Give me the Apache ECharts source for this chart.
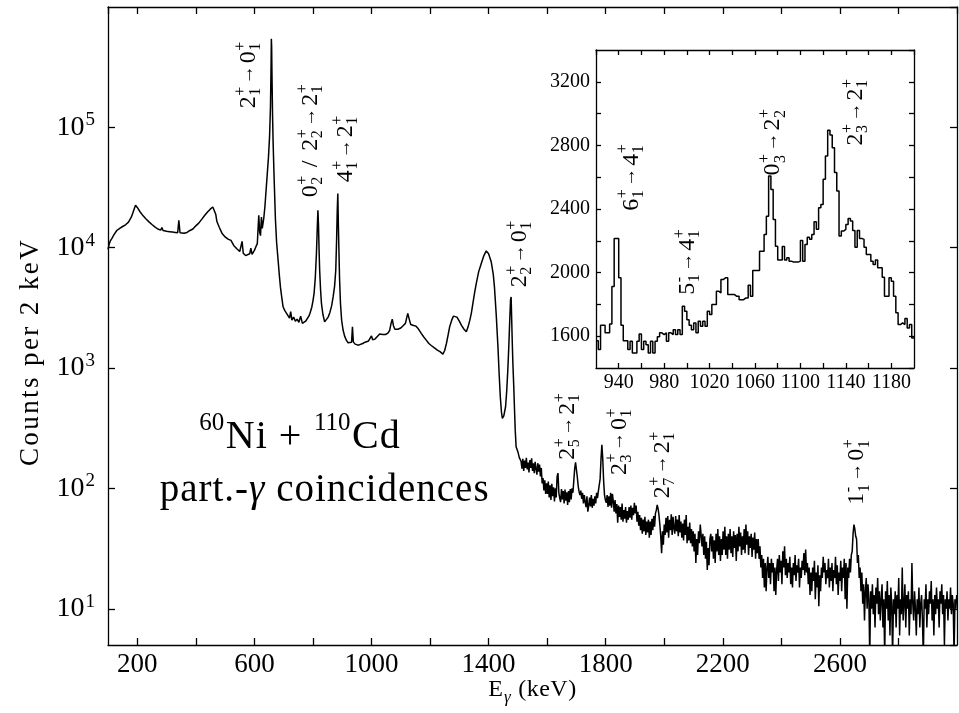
<!DOCTYPE html>
<html><head><meta charset="utf-8">
<script src="https://cdn.jsdelivr.net/npm/echarts@6/dist/echarts.min.js"></script>
<style>html,body{margin:0;padding:0;background:#fff}#c{width:959px;height:713px}</style>
</head><body><div id="c"></div>
<script>
// ---------------- DATA ----------------
// Main spectrum, 100 - 1505 keV: [energy keV, counts per 2 keV]
const lowEnergySpectrum = [
[100,9700],[104,10700],[108,11400],[113,11900],[120,12800],[130,13900],[140,14500],[150,15000],[160,15500],[170,16300],
[180,18000],[188,20500],[194,22500],[200,21600],[210,19800],[220,18400],[230,17300],[240,16400],[250,15600],[260,14900],
[270,14300],[280,14000],[284,14700],[288,13900],[300,13700],[310,13600],[320,13500],[330,13400],[338,13300],[342,16900],
[346,13300],[350,13200],[360,13200],[370,13400],[380,13900],[390,14300],[400,15200],[410,16000],[420,17200],[430,18500],
[440,19800],[450,21000],[458,21800],[464,21400],[468,19000],[472,16500],[480,14800],[490,13100],[500,12300],[510,11800],
[516,12000],[520,11500],[530,10400],[540,9800],[550,9300],[556,9100],[558,11300],[562,9000],[570,8600],[576,8500],
[584,8900],[588,9900],[592,8800],[600,9500],[606,10300],[610,10800],[613,15000],[615,18600],[618,13500],[621,12600],
[624,18000],[627,14500],[632,17500],[636,22000],[640,30000],[644,41000],[648,56000],[652,85000],[655,150000],[657,330000],
[658,545000],[659,470000],[660,290000],[662,130000],[664,75000],[667,41000],[670,24000],[672,17000],[676,11000],[681,7900],
[685,6000],[689,4700],[694,3800],[698,3230],[704,3000],[710,2850],[716,2750],[720,2600],[724,2950],[728,2500],
[734,2650],[740,2450],[746,2550],[752,2400],[758,2700],[764,2350],[769,2300],[775,2450],[780,2500],[786,2700],
[790,2850],[796,3200],[800,3600],[804,4200],[808,5600],[812,9000],[815,15000],[817,20500],[819,15500],[821,9500],
[823,6500],[826,4500],[829,3470],[834,2800],[840,2420],[846,2500],[852,2650],[858,2900],[864,3300],[869,3900],
[874,4800],[878,6500],[881,12000],[883,20000],[885,28200],[887,15000],[889,9000],[891,5500],[894,3470],[898,2500],
[903,2070],[908,1850],[914,1705],[920,1620],[926,1600],[932,1640],[935,2200],[938,1650],[944,1580],[950,1560],
[956,1550],[962,1580],[970,1600],[978,1640],[984,1700],[990,1680],[996,1780],[1000,1850],[1004,1720],[1008,1760],
[1012,1740],[1016,1790],[1020,1830],[1024,1860],[1028,1920],[1034,1960],[1038,1900],[1040,1880],[1044,1920],[1048,1900],
[1052,1930],[1056,1950],[1062,2050],[1066,2300],[1071,2550],[1075,2250],[1080,2100],[1085,2140],[1090,2100],[1095,2160],
[1100,2150],[1104,2220],[1108,2250],[1112,2300],[1116,2350],[1120,2600],[1124,2850],[1128,2600],[1134,2300],[1137,2350],
[1140,2300],[1144,2260],[1148,2200],[1152,2230],[1156,2150],[1160,2120],[1164,2050],[1170,1940],[1174,1900],[1178,1820],
[1182,1780],[1187,1706],[1191,1680],[1196,1600],[1200,1580],[1204,1540],[1210,1500],[1215,1470],[1220,1430],[1225,1410],
[1230,1380],[1234,1370],[1238,1340],[1244,1307],[1250,1400],[1256,1600],[1262,1900],[1267,2200],[1274,2500],[1280,2700],
[1285,2750],[1292,2650],[1300,2450],[1308,2250],[1316,2100],[1324,2000],[1330,2200],[1336,2500],[1341,2850],[1346,3400],
[1352,4200],[1358,5050],[1366,6300],[1375,7390],[1384,8600],[1392,9400],[1400,8900],[1409,7630],[1416,6000],[1420,4730],
[1426,2800],[1432,1500],[1436,900],[1440,578],[1444,430],[1447,381],[1452,400],[1458,477],[1462,650],[1466,1000],
[1469,1500],[1472,2400],[1475,3700],[1477,3900],[1479,2500],[1481,1600],[1483,1095],[1486,700],[1489,421],[1491,305],
[1494,222],[1500,202],[1505,180]
];
// High-energy tail: counts sampled every tailStepKeV starting at tailStartKeV
const tailStartKeV = 1511;
const tailStepKeV = 3;
const tailCounts = [
168,146,176,140,170,148,180,144,164,136, // 1511
172,148,178,140,162,134,166,146,130,162, // 1541
138,158,126,148,110,122,96,117,90,110,   // 1571
90,114,84,106,80,109,86,102,78,100,      // 1601
84,125,134,92,83,77,99,81,95,75,         // 1631
98,79,93,73,95,77,99,81,100,92,          // 1661
115,145,165,160,125,105,94,88,96,82,     // 1691
92,75,88,77,70,86,64,72,84,71,           // 1721
88,69,82,72,86,75,92,83,95,98,           // 1751
120,175,230,175,115,88,80,76,88,70,      // 1781
86,72,92,69,90,78,64,80,62,74,           // 1811
52,72,58,70,55,75,53,66,56,70,           // 1841
52,65,55,70,57,72,55,69,60,76,           // 1871
62,72,53,64,49,60,45,57,42,55,           // 1901
44,58,41,53,43,55,39,53,41,56,           // 1931
45,59,48,62,66,73,68,60,50,40,           // 1961
29,44,34,50,41,57,43,59,39,55,           // 1991
45,61,41,58,47,42,59,44,55,40,           // 2021
60,43,53,39,51,37,55,41,60,35,           // 2051
48,37,52,35,46,33,44,30,42,24,           // 2081
38,28,44,35,50,41,33,42,28,40,           // 2111
26,36,21,32,23,38,42,30,40,26,           // 2141
37,24,42,30,46,28,40,25,38,28,           // 2171
44,31,48,28,40,26,42,31,46,29,           // 2201
40,27,44,32,41,25,42,30,48,33,           // 2231
43,28,40,31,46,29,50,34,44,28,           // 2261
40,32,42,27,39,31,43,26,38,29,           // 2291
38,26,33,22,28,18,26,15,24,14,           // 2321
22,27,18,24,16,26,20,24,14,22,           // 2351
13,21,26,17,28,20,25,16,30,22,           // 2381
33,19,26,18,24,20,27,16,22,15,           // 2411
24,19,28,17,23,20,26,15,22,18,           // 2441
25,21,29,19,31,20,24,16,22,13,           // 2471
20,14,22,17,25,12,20,15,23,10.5,         // 2501
19,14,22,18,27,20,24,16,21,18,           // 2531
26,15,22,17,24,14,21,18,27,16,           // 2561
23,13,20,17,25,14,22,18,26,12,           // 2591
24,10,22,18,26,20,28,30,42,50,           // 2621
46,40,38,24,28,18,22,14,20,11,           // 2651
16,8,14,18,10,16,12,4,14,10,             // 2681
16,9,13,7,15,11,18,9,14,8,               // 2711
12,16,7,12,4,14,10,17,8,13,              // 2741
6,15,11,4,12,9,14,7,13,10,               // 2771
18,6,12,9,22,8,11,16,7,13,               // 2801
10,14,6,12,9,24,11,8,14,10,              // 2831
6,12,9,15,7,11,13,8,4,12,                // 2861
10,16,7,12,9,14,11,17,8,12,              // 2891
6,13,9,15,10,12,7,14,11,16,              // 2921
9,13,5,12,10,14,8,12,10,15,              // 2951
9,13,11,4,12,10,13                       // 2981
];
// Inset: 2-keV bins starting at 920 keV
const insetStartKeV = 920;
const insetBinKeV = 2;
const insetCounts = [
1572,1516,1669,1669,1621,1621,1677,1912,2215,2215, // 920
1967,1669,1572,1572,1516,1568,1495,1495,1568,1614, // 940
1516,1568,1547,1495,1568,1495,1568,1597,1621,1610, // 960
1621,1568,1621,1610,1641,1610,1641,1610,1788,1757, // 980
1704,1669,1641,1683,1621,1694,1662,1694,1662,1757, // 1000
1736,1799,1799,1883,1872,1956,1967,1967,1862,1862, // 1020
1862,1851,1851,1830,1830,1841,1841,1921,1851,2013, // 1040
2013,2013,2135,2135,2240,2355,2607,2523,2334,2166, // 1060
2080,2080,2164,2080,2093,2072,2066,2066,2066,2072, // 1080
2202,2072,2177,2223,2209,2240,2320,2272,2408,2429, // 1100
2587,2734,2895,2866,2786,2629,2513,2230,2261,2272, // 1120
2303,2341,2324,2265,2160,2265,2215,2209,2160,2114, // 1140
2114,2072,2051,2080,2030,2030,1971,1852,1852,1967, // 1160
1946,1852,1747,1673,1684,1673,1711,1652,1673,1589  // 1180
];
// Axis ranges
const mainXRange = [100, 3000], mainYRange = [5, 1e6];
const insetXRange = [920, 1200], insetYRange = [1400, 3400];

// Transition labels: tokens (b = base, p = superscript, s = subscript, a = arrow) and text start in data units
const mainLabels = [
  {tok:[{b:'2',p:'+',s:'1'},{a:1},{b:'0',p:'+',s:'1'}], at:[581,1.44e5]},
  {tok:[{b:'0',p:'+',s:'2'},{b:' / ',ls:2},{b:'2',p:'+',s:'2'},{a:1},{b:'2',p:'+',s:'1'}], at:[793,26200]},
  {tok:[{b:'4',p:'+',s:'1'},{a:1},{b:'2',p:'+',s:'1'}], at:[912,35000]},
  {tok:[{b:'2',p:'+',s:'2'},{a:1},{b:'0',p:'+',s:'1'}], at:[1506,4700]},
  {tok:[{b:'2',p:'+',s:'5'},{a:1},{b:'2',p:'+',s:'1'}], at:[1670,173]},
  {tok:[{b:'2',p:'+',s:'3'},{a:1},{b:'0',p:'+',s:'1'}], at:[1847,129]},
  {tok:[{b:'2',p:'+',s:'7'},{a:1},{b:'2',p:'+',s:'1'}], at:[1994,83]},
  {tok:[{b:'1',p:'-',s:'1'},{a:1},{b:'0',p:'+',s:'1'}], at:[2659,73]}
];
const insetLabels = [
  {tok:[{b:'6',p:'+',s:'1'},{a:1},{b:'4',p:'+',s:'1'}], at:[951,2389]},
  {tok:[{b:'5',p:'-',s:'1'},{a:1},{b:'4',p:'+',s:'1'}], at:[1000.6,1860]},
  {tok:[{b:'0',p:'+',s:'3'},{a:1},{b:'2',p:'+',s:'2'}], at:[1076,2610]},
  {tok:[{b:'2',p:'+',s:'3'},{a:1},{b:'2',p:'+',s:'1'}], at:[1149,2799]}
];

// ---------------- CHART ----------------
const FONT = '"Liberation Serif","Times New Roman",Times,serif';
const mainData = lowEnergySpectrum.concat(tailCounts.map((c, i) => [tailStartKeV + i * tailStepKeV, c]));
const insetData = insetCounts.map((c, i) => [insetStartKeV + i * insetBinKeV, c]);
insetData.push([insetXRange[1], insetCounts[insetCounts.length - 1]]);

const chart = echarts.init(document.getElementById('c'), null, {renderer: 'canvas'});
const axisLineStyle = {show: true, lineStyle: {color: '#000', width: 1.3}};
const tickStyle = (len) => ({show: true, inside: true, length: len, lineStyle: {color: '#000', width: 1.3}});
const noLabel = {show: false};

const mainX = {
  type: 'value', gridIndex: 0, min: mainXRange[0], max: mainXRange[1], minInterval: 200, maxInterval: 200,
  axisLine: axisLineStyle, axisTick: tickStyle(7), splitLine: {show: false},
};
const mainY = {
  type: 'log', logBase: 10, gridIndex: 0, min: mainYRange[0], max: mainYRange[1],
  axisLine: axisLineStyle, axisTick: tickStyle(7), splitLine: {show: false}, minorTick: {show: false},
};
const insX = {
  type: 'value', gridIndex: 1, min: insetXRange[0], max: insetXRange[1], interval: 20,
  axisLine: axisLineStyle, axisTick: tickStyle(5), splitLine: {show: false}
};
const insY = {
  type: 'value', gridIndex: 1, min: insetYRange[0], max: insetYRange[1], interval: 200,
  axisLine: axisLineStyle, axisTick: tickStyle(5), splitLine: {show: false}
};

const option = {
  animation: false,
  backgroundColor: '#fff',
  grid: [
    {left: 108, top: 7, right: 2, bottom: 68, show: false},
    {left: 596, top: 50, width: 318, height: 318, show: true, backgroundColor: '#fff', borderWidth: 0}
  ],
  xAxis: [
    Object.assign({}, mainX, {position: 'bottom', axisLabel: {
      show: true, fontFamily: FONT, fontSize: 27, color: '#000', margin: 6, showMinLabel: false, showMaxLabel: false,
      formatter: v => ((v - 200) % 400 === 0 ? String(v) : '')}}),
    Object.assign({}, mainX, {position: 'top', axisLabel: noLabel}),
    Object.assign({}, insX, {position: 'bottom', axisLabel: {
      show: true, fontFamily: FONT, fontSize: 20, color: '#000', margin: 5, showMinLabel: false, showMaxLabel: false,
      formatter: v => ((v - 940) % 40 === 0 ? String(v) : '')}}),
    Object.assign({}, insX, {position: 'top', axisLabel: noLabel})
  ],
  yAxis: [
    Object.assign({}, mainY, {position: 'left',
      axisLabel: {
        show: true, fontFamily: FONT, fontSize: 28, color: '#000', margin: 13, showMinLabel: false, showMaxLabel: false,
        formatter: v => { const e = Math.round(Math.log10(v)); return (e >= 1 && e <= 5) ? '10{s|' + e + '}' : ''; },
        rich: {s: {fontFamily: FONT, fontSize: 19, color: '#000', padding: [0, 0, 14, 1]}}
      }}),
    Object.assign({}, mainY, {position: 'right', axisLabel: noLabel}),
    Object.assign({}, insY, {position: 'left', axisLabel: {
      show: true, fontFamily: FONT, fontSize: 20, color: '#000', margin: 6, showMinLabel: false, showMaxLabel: false,
      formatter: v => (v % 400 === 0 ? String(v) : '')}}),
    Object.assign({}, insY, {position: 'right', axisLabel: noLabel})
  ],
  series: [
    {type: 'line', xAxisIndex: 0, yAxisIndex: 0, data: mainData, showSymbol: false, symbol: 'none',
     lineStyle: {color: '#000', width: 1.5}, clip: true, silent: true},
    {type: 'line', xAxisIndex: 2, yAxisIndex: 2, data: insetData, step: 'end', showSymbol: false, symbol: 'none',
     lineStyle: {color: '#000', width: 1.5}, clip: true, silent: true}
  ]
};
chart.setOption(option);

// ---------- annotation text with stacked super/subscripts ----------
const mctx = document.createElement('canvas').getContext('2d');
function fontStr(size, italic) { return (italic ? 'italic ' : '') + size + 'px ' + FONT; }
function tw(text, font) { mctx.font = font; return mctx.measureText(text).width; }
function txt(text, x, y, font) {
  return {type: 'text', x: x, y: y, silent: true,
    style: {text: text, font: font, fill: '#000', align: 'left', verticalAlign: 'middle'}};
}
function composite(tokens, px, py, rotation, base, small, centered, ls) {
  const kids = []; let x = 0; ls = ls || 0;
  tokens.forEach(t => {
    if (t.a) { // arrow
      const f = fontStr(Math.round(base * 0.8), false);
      x += 2; kids.push(txt('\u2192', x, -1, f)); x += tw('\u2192', f) + 2; return;
    }
    if (t.b) {
      const f = fontStr(base, t.i); const sp = (t.ls !== undefined) ? t.ls : ls;
      if (sp) { for (const ch of t.b) { kids.push(txt(ch, x, 0, f)); x += tw(ch, f) + sp; } }
      else { kids.push(txt(t.b, x, 0, f)); x += tw(t.b, f); }
    }
    let w = 0;
    if (t.p) { const f = fontStr(small, t.pi); kids.push(txt(t.p, x + 0.5, -base * 0.33, f)); w = Math.max(w, tw(t.p, f)); }
    if (t.s) { const f = fontStr(small, t.si); kids.push(txt(t.s, x + 0.5, base * 0.3, f)); w = Math.max(w, tw(t.s, f)); }
    x += w ? w + 1 + ls : 0;
  });
  if (centered) kids.forEach(k => { k.x -= x / 2; });
  return {type: 'group', x: px, y: py, rotation: rotation, children: kids};
}

const elements = [];
mainLabels.forEach(l => {
  const p = chart.convertToPixel({xAxisIndex: 0, yAxisIndex: 0}, l.at);
  elements.push(composite(l.tok, p[0], p[1], Math.PI / 2, 24, 16, false));
});
insetLabels.forEach(l => {
  const p = chart.convertToPixel({xAxisIndex: 2, yAxisIndex: 2}, l.at);
  elements.push(composite(l.tok, p[0], p[1], Math.PI / 2, 24, 16, false));
});
// reaction text
let p1 = chart.convertToPixel({xAxisIndex: 0, yAxisIndex: 0}, [755, 267]);
elements.push(composite([{p: '60'}, {b: 'Ni + '}, {p: '110'}, {b: 'Cd'}], p1[0], p1[1], 0, 40, 25, true, 1));
let p2 = chart.convertToPixel({xAxisIndex: 0, yAxisIndex: 0}, [840, 95]);
elements.push(composite([{b: 'part.-'}, {b: '\u03b3', i: true}, {b: ' coincidences'}], p2[0], p2[1], 0, 39, 25, true, 1));
// axis titles
const gridRect = {left: 108, right: 957, top: 7, bottom: 645};
elements.push(composite([{b: 'E', s: '\u03b3', si: true}, {b: ' (keV)'}], (gridRect.left + gridRect.right) / 2, 690, 0, 24, 17, true, 0.5));
elements.push(composite([{b: 'Counts per 2 keV'}], 31, 352, Math.PI / 2, 27, 16, true, 2.4));

chart.setOption({graphic: {elements: elements}});
</script>
</body></html>
